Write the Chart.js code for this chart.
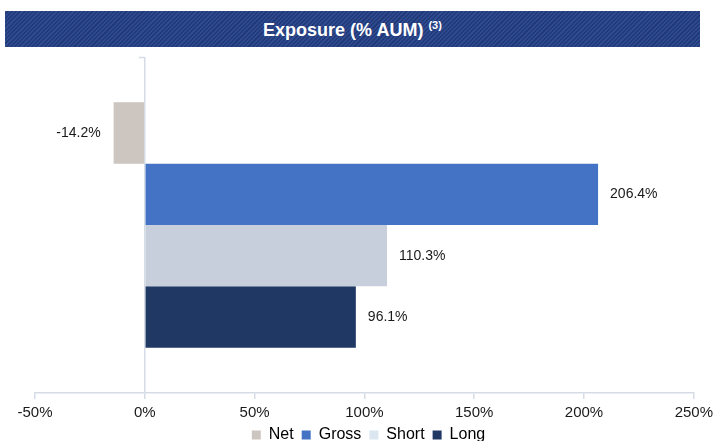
<!DOCTYPE html>
<html>
<head>
<meta charset="utf-8">
<script src="https://cdn.jsdelivr.net/npm/chart.js@4.4.1/dist/chart.umd.min.js"></script>
<style>
  html, body { margin: 0; padding: 0; background: #fff; }
  #wrap { position: relative; width: 718px; height: 441px; }
  #banner {
    position: absolute; left: 5px; top: 11px; width: 695px; height: 36px;
    background: repeating-linear-gradient(135deg, #2f4b8f 0px, #2f4b8f 1.5px, #22397a 1.5px, #22397a 3px);
    color: #fff; font-family: "Liberation Sans", Arial, sans-serif; font-weight: bold;
    font-size: 18px; line-height: 38px; text-align: center;
  }
  #banner sup { font-size: 11px; vertical-align: 7px; line-height: 0; }
</style>
</head>
<body>
<div id="wrap">
  <canvas id="exposureChart" width="718" height="441"></canvas>
  <div id="banner">Exposure (% AUM) <sup>(3)</sup></div>
</div>
<script>
// exposure chart
const seriesNames = ["Net", "Gross", "Short", "Long"];
const seriesValues = [-14.2, 206.4, 110.3, 96.1];
const seriesColors = ["#cdc5c0", "#4472c4", "#c6cfdb", "#203864"];
const legendColors = ["#cdc5c0", "#4472c4", "#dce6f1", "#203864"];
const categories = [""];
const tickMin = -50, tickMax = 250, tickStep = 50;

const lineColor = "#d6dce6";

// value labels next to the bar ends
const valueLabels = {
  id: "valueLabels",
  afterDatasetsDraw(chart) {
    const ctx = chart.ctx;
    ctx.save();
    ctx.font = "14px 'Liberation Sans', Arial, sans-serif";
    ctx.fillStyle = "#1a1a1a";
    ctx.textBaseline = "middle";
    chart.data.datasets.forEach((ds, i) => {
      const meta = chart.getDatasetMeta(i);
      meta.data.forEach((bar, j) => {
        const v = ds.data[j];
        const txt = v.toFixed(1) + "%";
        if (v < 0) {
          ctx.textAlign = "right";
          ctx.fillText(txt, bar.x - 13, bar.y);
        } else {
          ctx.textAlign = "left";
          ctx.fillText(txt, bar.x + 12, bar.y);
        }
      });
    });
    // small mark at the top of the zero line
    const x0 = chart.scales.x.getPixelForValue(0);
    ctx.strokeStyle = lineColor;
    ctx.lineWidth = 1.5;
    ctx.beginPath();
    ctx.moveTo(x0 - 6, chart.chartArea.top + 0.5);
    ctx.lineTo(x0, chart.chartArea.top + 0.5);
    ctx.stroke();
    ctx.restore();
  }
};

const config = {
  type: "bar",
  data: {
    labels: categories,
    datasets: seriesNames.map((name, i) => ({
      label: name,
      data: [seriesValues[i]],
      backgroundColor: seriesColors[i],
      borderWidth: 0,
      categoryPercentage: 0.73,
      barPercentage: 1,
    })),
  },
  options: {
    indexAxis: "y",
    responsive: false,
    animation: false,
    layout: { padding: { top: 57, left: 35, right: 16, bottom: -12 } },
    scales: {
      x: {
        min: tickMin,
        max: tickMax,
        afterFit: (scale) => { scale.height -= 8; },
        border: { display: true, color: lineColor, width: 1.5 },
        grid: {
          drawOnChartArea: true,
          color: (c) => (c.tick && c.tick.value === 0 ? lineColor : "rgba(0,0,0,0)"),
          lineWidth: 1.5,
          tickColor: lineColor,
          tickLength: 6,
        },
        ticks: {
          stepSize: tickStep,
          color: "#1a1a1a",
          padding: 5,
          font: { family: "'Liberation Sans', Arial, sans-serif", size: 15 },
          callback: (v) => v + "%",
        },
      },
      y: { display: false },
    },
    plugins: {
      title: { display: false },
      tooltip: { enabled: false },
      legend: {
        display: true,
        position: "bottom",
        labels: {
          boxWidth: 9,
          boxHeight: 9,
          padding: 8,
          color: "#1a1a1a",
          font: { family: "'Liberation Sans', Arial, sans-serif", size: 16 },
          generateLabels: (chart) =>
            seriesNames.map((name, i) => ({
              text: name,
              fillStyle: legendColors[i],
              strokeStyle: legendColors[i],
              lineWidth: 0,
              datasetIndex: i,
            })),
        },
      },
    },
  },
  plugins: [valueLabels],
};

const ctx = document.getElementById("exposureChart").getContext("2d");
const exposureChart = new Chart(ctx, config);
</script>
</body>
</html>
